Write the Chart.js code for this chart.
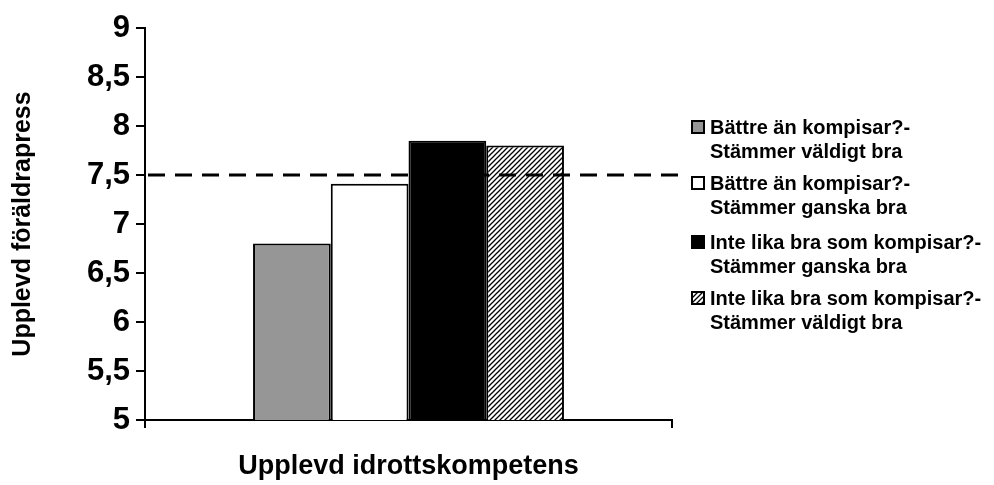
<!DOCTYPE html>
<html>
<head>
<meta charset="utf-8">
<script src="https://cdn.jsdelivr.net/npm/chart.js@4/dist/chart.umd.min.js"></script>
<style>
html,body{margin:0;padding:0;background:#fff;}
#wrap{width:994px;height:485px;position:relative;}
</style>
</head>
<body>
<div id="wrap"><canvas id="c" width="994" height="485"></canvas></div>
<script>
const categories = [''];
const seriesNames = [
  ['Bättre än kompisar?-', 'Stämmer väldigt bra'],
  ['Bättre än kompisar?-', 'Stämmer ganska bra'],
  ['Inte lika bra som kompisar?-', 'Stämmer ganska bra'],
  ['Inte lika bra som kompisar?-', 'Stämmer väldigt bra']
];
const seriesValues = [[6.8], [7.41], [7.85], [7.8]];
const referenceValue = 7.5;
const yTicks = [5, 5.5, 6, 6.5, 7, 7.5, 8, 8.5, 9];
const xTitle = 'Upplevd idrottskompetens';
const yTitle = 'Upplevd föräldrapress';

const FONT = '"Liberation Sans", Arial, sans-serif';

function hatchPattern() {
  const s = 5;
  const pc = document.createElement('canvas');
  pc.width = s; pc.height = s;
  const p = pc.getContext('2d');
  p.fillStyle = '#fff';
  p.fillRect(0, 0, s, s);
  p.strokeStyle = '#000';
  p.lineWidth = 1.3;
  p.beginPath();
  p.moveTo(-1, s + 1); p.lineTo(s + 1, -1);
  p.moveTo(-1, 1); p.lineTo(1, -1);
  p.moveTo(s - 1, s + 1); p.lineTo(s + 1, s - 1);
  p.stroke();
  return document.getElementById('c').getContext('2d').createPattern(pc, 'repeat');
}

const fills = ['#969696', '#ffffff', '#000000', hatchPattern()];

const refLinePlugin = {
  id: 'refLine',
  afterDatasetsDraw(chart) {
    const y = chart.scales.y.getPixelForValue(referenceValue);
    const ctx = chart.ctx;
    ctx.save();
    ctx.strokeStyle = '#000';
    ctx.lineWidth = 3;
    ctx.setLineDash([17, 10]);
    ctx.beginPath();
    ctx.moveTo(chart.chartArea.left + 3, y);
    ctx.lineTo(chart.chartArea.right + 10, y);
    ctx.stroke();
    ctx.restore();
  }
};

const legendPlugin = {
  id: 'customLegend',
  afterDraw(chart) {
    const ctx = chart.ctx;
    ctx.save();
    const x0 = 692, tx = 710;
    const starts = [127, 183, 242, 298];
    ctx.font = 'bold 20px ' + FONT;
    ctx.textBaseline = 'middle';
    seriesNames.forEach((lines, i) => {
      const y = starts[i];
      ctx.fillStyle = fills[i];
      ctx.fillRect(x0, y - 6, 12, 12);
      ctx.strokeStyle = '#000';
      ctx.lineWidth = 2;
      ctx.strokeRect(x0, y - 6, 12, 12);
      ctx.fillStyle = '#000';
      lines.forEach((t, j) => ctx.fillText(t, tx, y + 1 + j * 24));
    });
    ctx.restore();
  }
};

new Chart(document.getElementById('c'), {
  type: 'bar',
  data: {
    labels: categories,
    datasets: seriesValues.map((v, i) => ({
      label: seriesNames[i].join(' '),
      data: v,
      backgroundColor: fills[i],
      borderColor: '#000',
      borderWidth: 2,
      borderSkipped: 'bottom'
    }))
  },
  options: {
    responsive: false,
    animation: false,
    devicePixelRatio: 1,
    layout: { padding: { left: 0, right: 322, top: 28, bottom: 0 } },
    datasets: { bar: { categoryPercentage: 0.59, barPercentage: 1.0 } },
    plugins: { legend: { display: false }, tooltip: { enabled: false } },
    scales: {
      x: {
        grid: { drawOnChartArea: false, offset: true, color: '#000', lineWidth: 2, tickLength: 8 },
        border: { color: '#000', width: 2 },
        ticks: { display: true, font: { size: 2 } },
        title: { display: true, text: xTitle, color: '#000', font: { family: FONT, size: 27, weight: 'bold' }, padding: { top: 0, bottom: 2 } },
        afterFit(s) { s.height = 65; }
      },
      y: {
        min: 5, max: 9,
        afterBuildTicks(s) { s.ticks = yTicks.map(v => ({ value: v })); },
        grid: { drawOnChartArea: false, color: '#000', lineWidth: 2, tickLength: 9 },
        border: { color: '#000', width: 2 },
        ticks: {
          color: '#000', padding: 6,
          font: { family: FONT, size: 31, weight: 'bold' },
          callback: v => String(v).replace('.', ',')
        },
        title: { display: true, text: yTitle, color: '#000', font: { family: FONT, size: 25, weight: 'bold' }, padding: { top: 8, bottom: 0 } },
        afterFit(s) { s.width = 145; }
      }
    }
  },
  plugins: [refLinePlugin, legendPlugin]
});
</script>
</body>
</html>
